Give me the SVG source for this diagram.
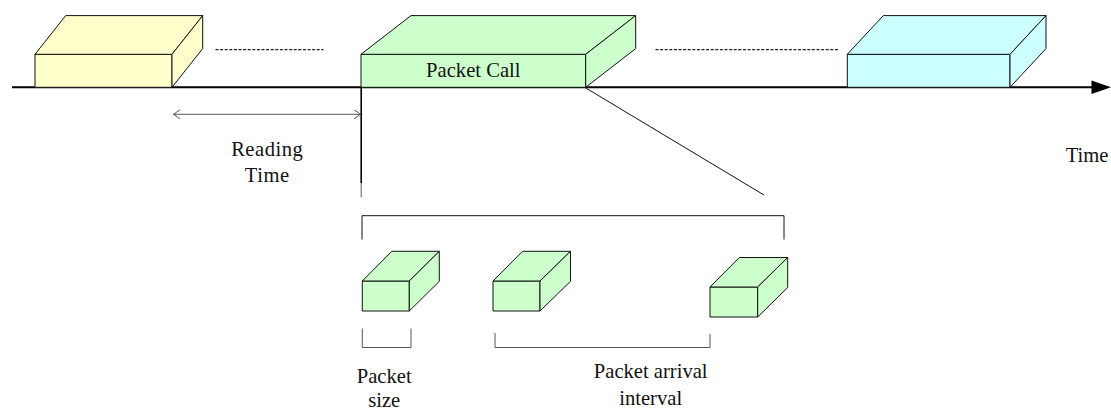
<svg xmlns="http://www.w3.org/2000/svg" width="1111" height="410" viewBox="0 0 1111 410">
<style>
.box{stroke:#111;stroke-width:1;stroke-linejoin:round}
.y{fill:#FFFFCC}.g{fill:#CCFFCC}.c{fill:#CCFFFF}
.t{font-family:"Liberation Serif","Times New Roman",serif;font-size:20.6px;fill:#111}
.ln{stroke:#111;stroke-width:1;fill:none}
.gr{stroke:#555;stroke-width:1;fill:none}
.dash{stroke:#222;stroke-width:1.3;stroke-dasharray:3 1.6;fill:none}
</style>
<defs>
<marker id="open" markerWidth="10" markerHeight="10" refX="6.5" refY="4.5" orient="auto-start-reverse" markerUnits="userSpaceOnUse">
<path d="M0,0 L6.5,4.5 L0,9" fill="none" stroke="#555" stroke-width="1"/>
</marker>
</defs>
<g id="connectors">
<line x1="12" y1="87.3" x2="1093" y2="87.3" stroke="#000" stroke-width="2"/>
<polygon points="1091.5,80.5 1111,87.3 1091.5,94" fill="#000"/>
<line class="dash" x1="215.5" y1="49.7" x2="323.5" y2="49.7"/>
<line class="dash" x1="655.5" y1="49.7" x2="838.5" y2="49.7"/>
<line class="gr" x1="173.5" y1="114.3" x2="360.5" y2="114.3" marker-start="url(#open)" marker-end="url(#open)"/>
<line x1="361.2" y1="87" x2="361.2" y2="183" stroke="#000" stroke-width="1.6"/>
<line x1="361.2" y1="183" x2="361.2" y2="197" stroke="#777" stroke-width="1.2"/>
<line class="ln" x1="585.5" y1="87.8" x2="764" y2="195"/>
<path class="ln" d="M362,239.5 V215.7 H784 V239.5"/>
<path class="gr" d="M362.3,328.5 V347.5 H411 V328.5"/>
<path class="gr" d="M495,333 V347.5 H710 V334"/>
</g>
<g id="reading-box">
<path class="box y" d="M35,54.3 H172 V87.3 H35 Z"/>
<path class="box y" d="M35,54.3 L65.7,15.6 H202.7 L172,54.3 Z"/>
<path class="box y" d="M172,54.3 L202.7,15.6 V48.6 L172,87.3 Z"/>
</g>
<g id="packet-call">
<path class="box g" d="M361,54.3 H585.7 V87.3 H361 Z"/>
<path class="box g" d="M361,54.3 L411,15.6 H635.7 L585.7,54.3 Z"/>
<path class="box g" d="M585.7,54.3 L635.7,15.6 V48.6 L585.7,87.3 Z"/>
<text class="t" x="473.3" y="77.3" text-anchor="middle">Packet Call</text>
</g>
<g id="next-box">
<path class="box c" d="M847.3,54.3 H1010 V87.3 H847.3 Z"/>
<path class="box c" d="M847.3,54.3 L883.3,15.6 H1046 L1010,54.3 Z"/>
<path class="box c" d="M1010,54.3 L1046,15.6 V48.6 L1010,87.3 Z"/>
</g>
<g id="packet-1">
<path class="box g" d="M362.3,281 H409.3 V311 H362.3 Z"/>
<path class="box g" d="M362.3,281 L391.8,251.3 H439.3 L409.3,281 Z"/>
<path class="box g" d="M409.3,281 L439.3,251.3 V281.3 L409.3,311 Z"/>
</g>
<g id="packet-2">
<path class="box g" d="M493,281 H540 V311 H493 Z"/>
<path class="box g" d="M493,281 L522.5,251.3 H570.5 L540,281 Z"/>
<path class="box g" d="M540,281 L570.5,251.3 V281.3 L540,311 Z"/>
</g>
<g id="packet-3">
<path class="box g" d="M710,287 H757.7 V317 H710 Z"/>
<path class="box g" d="M710,287 L739.3,257.5 H787.7 L757.7,287 Z"/>
<path class="box g" d="M757.7,287 L787.7,257.5 V287.5 L757.7,317 Z"/>
</g>
<g id="label-reading">
<text class="t" x="267.2" y="156" text-anchor="middle" letter-spacing="0.5">Reading</text>
<text class="t" x="267.2" y="182" text-anchor="middle" letter-spacing="0.5">Time</text>
</g>
<g id="label-time">
<text class="t" x="1065.7" y="161.7">Time</text>
</g>
<g id="label-size">
<text class="t" x="384.2" y="383.3" text-anchor="middle">Packet</text>
<text class="t" x="384.2" y="407" text-anchor="middle">size</text>
</g>
<g id="label-interval">
<text class="t" x="650.7" y="378.3" text-anchor="middle">Packet arrival</text>
<text class="t" x="650.7" y="405" text-anchor="middle">interval</text>
</g>
</svg>
